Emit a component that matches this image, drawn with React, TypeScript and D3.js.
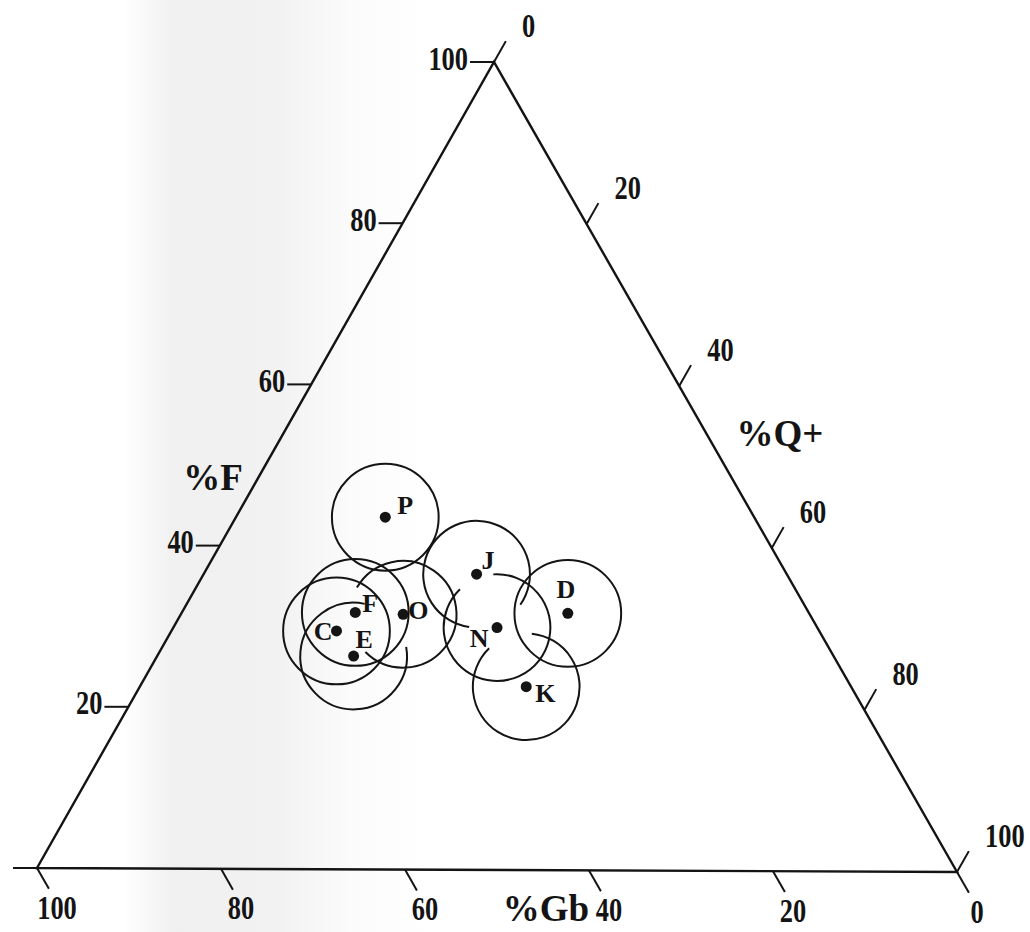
import * as d3 from "d3";

// sample compositions (percent): %Gb, %Q+, %F
const samples = ["P", "J", "D", "F", "O", "C", "N", "E", "K"];
const gbValues = [40.2, 33.8, 26.3, 49.4, 44.3, 52.6, 34.9, 52.3, 35.4];
const qValues = [16.2, 29.6, 41.9, 18.8, 24.1, 17.9, 35.1, 21.3, 41.9];
const fValues = [43.6, 36.6, 31.8, 31.8, 31.6, 29.5, 30.0, 26.4, 22.7];
const circleRadius = 5.8; // uncertainty circle, in percent of the side

const tickValues = [0, 20, 40, 60, 80, 100];

const W = 1030;
const H = 932;
// triangle corners in the picture (Gb bottom-left, Q+ bottom-right, F top)
const BL: [number, number] = [37, 868];
const BR: [number, number] = [957, 872];
const TOP: [number, number] = [494, 62];

// edges as d3 scales with array ranges
const bottomEdge = d3.scaleLinear<number[]>().domain([0, 100]).range([BL, BR]);
const leftEdge = d3.scaleLinear<number[]>().domain([0, 100]).range([BL, TOP]);
const rightEdge = d3.scaleLinear<number[]>().domain([0, 100]).range([TOP, BR]);
const sideScale = d3.scaleLinear().domain([0, 100]).range([0, BR[0] - BL[0]]);

const project = (gb: number, q: number, f: number) => {
  const s = gb + q + f;
  const x = (gb * BL[0] + q * BR[0] + f * TOP[0]) / s;
  const y = (gb * BL[1] + q * BR[1] + f * TOP[1]) / s;
  return [x, y];
};

// tick directions: iso-lines of each component
const TICK = 24;
const unit = (a: number[], b: number[]) => {
  const dx = b[0] - a[0];
  const dy = b[1] - a[1];
  const l = Math.hypot(dx, dy);
  return [dx / l, dy / l];
};
const upRight = unit(BL, TOP); // parallel to left edge
const downRight = unit(TOP, BR); // parallel to right edge

// where the hand-drawn circles are broken where they cross others
// (degrees, 0 = east, clockwise on screen)
const CIRCLE_GAPS: Record<string, [number, number] | null> = {
  P: null,
  J: [35, 98],
  D: null,
  F: null,
  O: [135, 210],
  C: null,
  N: [226, 266],
  E: [282, 350],
  K: [226, 276],
};

// label placement next to each dot
const LABELS: Record<string, { dx: number; dy: number; anchor: string }> = {
  P: { dx: 12, dy: -9, anchor: "start" },
  J: { dx: 5, dy: -11, anchor: "start" },
  D: { dx: -2, dy: -21, anchor: "middle" },
  F: { dx: 7, dy: -6, anchor: "start" },
  O: { dx: 5, dy: -1, anchor: "start" },
  C: { dx: -4, dy: 3, anchor: "end" },
  N: { dx: -18, dy: 13, anchor: "middle" },
  E: { dx: 2, dy: -14, anchor: "start" },
  K: { dx: 9, dy: 9, anchor: "start" },
};

const FONT = "'Liberation Serif', 'DejaVu Serif', serif";
const INK = "#141414";
const rad = (deg: number) => (deg * Math.PI) / 180;

export default function App() {
  const tri = d3.line()([BL, BR, TOP, BL] as [number, number][]) + "Z";

  const numLabel = (x: number, y: number, txt: string, anchor: string, key: string) => (
    <text
      key={key}
      transform={`translate(${x},${y}) scale(0.8,1)`}
      textAnchor={anchor}
      dominantBaseline="middle"
      fontFamily={FONT}
      fontWeight="bold"
      fontSize={33}
      fill={INK}
    >
      {txt}
    </text>
  );

  return (
    <svg
      width={W}
      height={H}
      style={{ position: "absolute", left: 0, top: 0, background: "#fff" }}
    >
      <defs>
        <linearGradient id="scan" x1="0" x2="1" y1="0" y2="0">
          <stop offset="0" stopColor="#ffffff" />
          <stop offset="0.12" stopColor="#ffffff" />
          <stop offset="0.17" stopColor="#f0f0f0" />
          <stop offset="0.27" stopColor="#f2f2f2" />
          <stop offset="0.34" stopColor="#fbfbfb" />
          <stop offset="0.42" stopColor="#ffffff" />
        </linearGradient>
      </defs>
      <rect width={W} height={H} fill="url(#scan)" />

      <path d={tri} fill="none" stroke={INK} strokeWidth={2.4} strokeLinejoin="miter" />

      {/* %F ticks on the left edge */}
      {tickValues.map((v) => {
        const [x, y] = leftEdge(v);
        return (
          <g key={"f" + v}>
            <line x1={x} y1={y} x2={x - TICK} y2={y} stroke={INK} strokeWidth={2} />
            {v > 0 && numLabel(x - TICK - 2, y, String(v), "end", "fl" + v)}
          </g>
        );
      })}

      {/* %Q+ ticks on the right edge */}
      {tickValues.map((v) => {
        const [x, y] = rightEdge(v);
        return (
          <g key={"q" + v}>
            <line
              x1={x}
              y1={y}
              x2={x + upRight[0] * TICK}
              y2={y + upRight[1] * TICK}
              stroke={INK}
              strokeWidth={2}
            />
            {numLabel(x + 28, y - 33, String(v), "start", "ql" + v)}
          </g>
        );
      })}

      {/* %Gb ticks on the bottom edge (100 at left) */}
      {tickValues.map((v) => {
        const [x, y] = bottomEdge(100 - v);
        return (
          <g key={"g" + v}>
            <line
              x1={x}
              y1={y}
              x2={x + downRight[0] * TICK}
              y2={y + downRight[1] * TICK}
              stroke={INK}
              strokeWidth={2}
            />
            {numLabel(x + 20, y + 43, String(v), "middle", "gl" + v)}
          </g>
        );
      })}

      {/* axis titles */}
      <text x={213} y={490} textAnchor="middle" fontFamily={FONT} fontWeight="bold" fontSize={37} fill={INK}>
        %F
      </text>
      <text x={780} y={446} textAnchor="middle" fontFamily={FONT} fontWeight="bold" fontSize={37} fill={INK}>
        %Q+
      </text>
      <text x={546} y={921} textAnchor="middle" fontFamily={FONT} fontWeight="bold" fontSize={37} fill={INK}>
        %Gb
      </text>

      {/* uncertainty circles */}
      {samples.map((s, i) => {
        const [x, y] = project(gbValues[i], qValues[i], fValues[i]);
        const r = sideScale(circleRadius);
        const gap = CIRCLE_GAPS[s];
        const p = d3.path();
        if (gap) {
          const a0 = rad(gap[1]);
          const a1 = rad(gap[0] + 360);
          p.moveTo(x + r * Math.cos(a0), y + r * Math.sin(a0));
          p.arc(x, y, r, a0, a1);
        } else {
          p.moveTo(x + r, y);
          p.arc(x, y, r, 0, 2 * Math.PI);
        }
        return (
          <path key={"c" + s} d={p.toString()} fill="none" stroke={INK} strokeWidth={2} />
        );
      })}

      {/* sample points */}
      {samples.map((s, i) => {
        const [x, y] = project(gbValues[i], qValues[i], fValues[i]);
        const lab = LABELS[s];
        return (
          <g key={"p" + s}>
            <circle cx={x} cy={y} r={5.5} fill={INK} />
            <text
              x={x + lab.dx}
              y={y + lab.dy}
              textAnchor={lab.anchor}
              dominantBaseline="middle"
              fontFamily={FONT}
              fontWeight="bold"
              fontSize={26}
              fill={INK}
            >
              {s}
            </text>
          </g>
        );
      })}
    </svg>
  );
}
